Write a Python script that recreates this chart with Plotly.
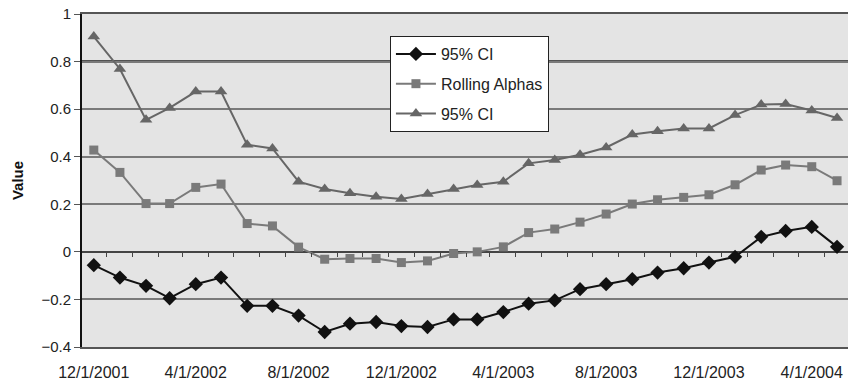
import pandas as pd
import plotly.graph_objects as go

# monthly observations, 12/1/2001 .. 5/1/2004
months = pd.date_range("2001-12-01", "2004-05-01", freq="MS")

lower_ci = [-0.056, -0.108, -0.143, -0.195, -0.136, -0.108, -0.227, -0.227, -0.268, -0.337,
            -0.302, -0.295, -0.312, -0.316, -0.284, -0.284, -0.253, -0.218, -0.204, -0.157,
            -0.136, -0.115, -0.087, -0.069, -0.045, -0.021, 0.063, 0.088, 0.105, 0.021]
rolling_alphas = [0.428, 0.334, 0.203, 0.203, 0.271, 0.285, 0.119, 0.109, 0.020, -0.031,
                  -0.028, -0.028, -0.045, -0.038, -0.007, 0.000, 0.021, 0.081, 0.096, 0.125,
                  0.159, 0.201, 0.219, 0.229, 0.240, 0.282, 0.344, 0.365, 0.358, 0.299]
upper_ci = [0.905, 0.769, 0.555, 0.605, 0.674, 0.674, 0.450, 0.435, 0.295, 0.264,
            0.246, 0.232, 0.222, 0.243, 0.264, 0.281, 0.295, 0.372, 0.386, 0.408,
            0.439, 0.493, 0.507, 0.519, 0.519, 0.575, 0.619, 0.622, 0.594, 0.563]

x_range = ["2001-11-17", "2004-05-14"]
y_range = [-0.4, 1]

fig = go.Figure()
fig.add_trace(go.Scatter(x=months, y=lower_ci, name="95% CI", mode="lines+markers",
                         legendgroup="a",
                         line=dict(color="#111111", width=2),
                         marker=dict(symbol="diamond", size=11, color="#111111")))
fig.add_trace(go.Scatter(x=months, y=rolling_alphas, name="Rolling Alphas", mode="lines+markers",
                         legendgroup="b",
                         line=dict(color="#7a7a7a", width=2),
                         marker=dict(symbol="square", size=9, color="#7a7a7a")))
fig.add_trace(go.Scatter(x=months, y=upper_ci, name="95% CI", mode="lines+markers",
                         legendgroup="c",
                         line=dict(color="#666666", width=2),
                         marker=dict(symbol="triangle-up", size=11, color="#666666")))
# invisible trace to carry the tick marks along the zero line
fig.add_trace(go.Scatter(x=months, y=rolling_alphas, xaxis="x2", showlegend=False,
                         mode="none", hoverinfo="skip"))

fig.update_layout(
    width=848, height=383,
    margin=dict(l=82, r=0, t=14, b=36, autoexpand=False),
    paper_bgcolor="white",
    plot_bgcolor="#e4e4e4",
    font=dict(family="Arial, Liberation Sans, sans-serif", size=14, color="#222222"),
    showlegend=True,
    legend=dict(x=0.402, y=0.934, xanchor="left", yanchor="top",
                bgcolor="white", bordercolor="#222222", borderwidth=1,
                font=dict(size=16), tracegroupgap=6, itemwidth=40),
    xaxis=dict(range=x_range, tickformat="%-m/%-d/%Y", dtick="M4", tick0="2001-12-01",
               showgrid=False, showline=True, linecolor="#555555", linewidth=2,
               mirror=True, ticks="", automargin=False, ticklabelstandoff=10,
               ticklabeloverflow="allow",
               tickfont=dict(size=16, color="#222222")),
    xaxis2=dict(range=x_range, overlaying="x", anchor="free",
                position=(0 - y_range[0]) / (y_range[1] - y_range[0]),
                dtick="M1", tick0="2001-11-16", ticks="outside", ticklen=4,
                tickcolor="#444444", showticklabels=False, showgrid=False, showline=False),
    yaxis=dict(range=y_range, dtick=0.2, tick0=-0.4, showgrid=True, gridcolor="#7a7a7a",
               gridwidth=1.5, zeroline=True, zerolinecolor="#444444", zerolinewidth=1.5,
               showline=True, linecolor="#111111", linewidth=2, ticks="outside",
               ticklen=6, tickcolor="#555555", automargin=False,
               ticklabeloverflow="allow",
               title=dict(text="<b>Value</b>", font=dict(size=15, color="#111111"), standoff=14),
               tickfont=dict(size=15, color="#222222")),
)

# darker 0.8 line as in the scan
fig.add_hline(y=0.8, line=dict(color="#222222", width=2.5), layer="below")

# drop the default 8px body margin so the figure fills the window
fig.write_html("out.html", config={"displayModeBar": False},
               post_script="document.body.style.margin = '0px';")
